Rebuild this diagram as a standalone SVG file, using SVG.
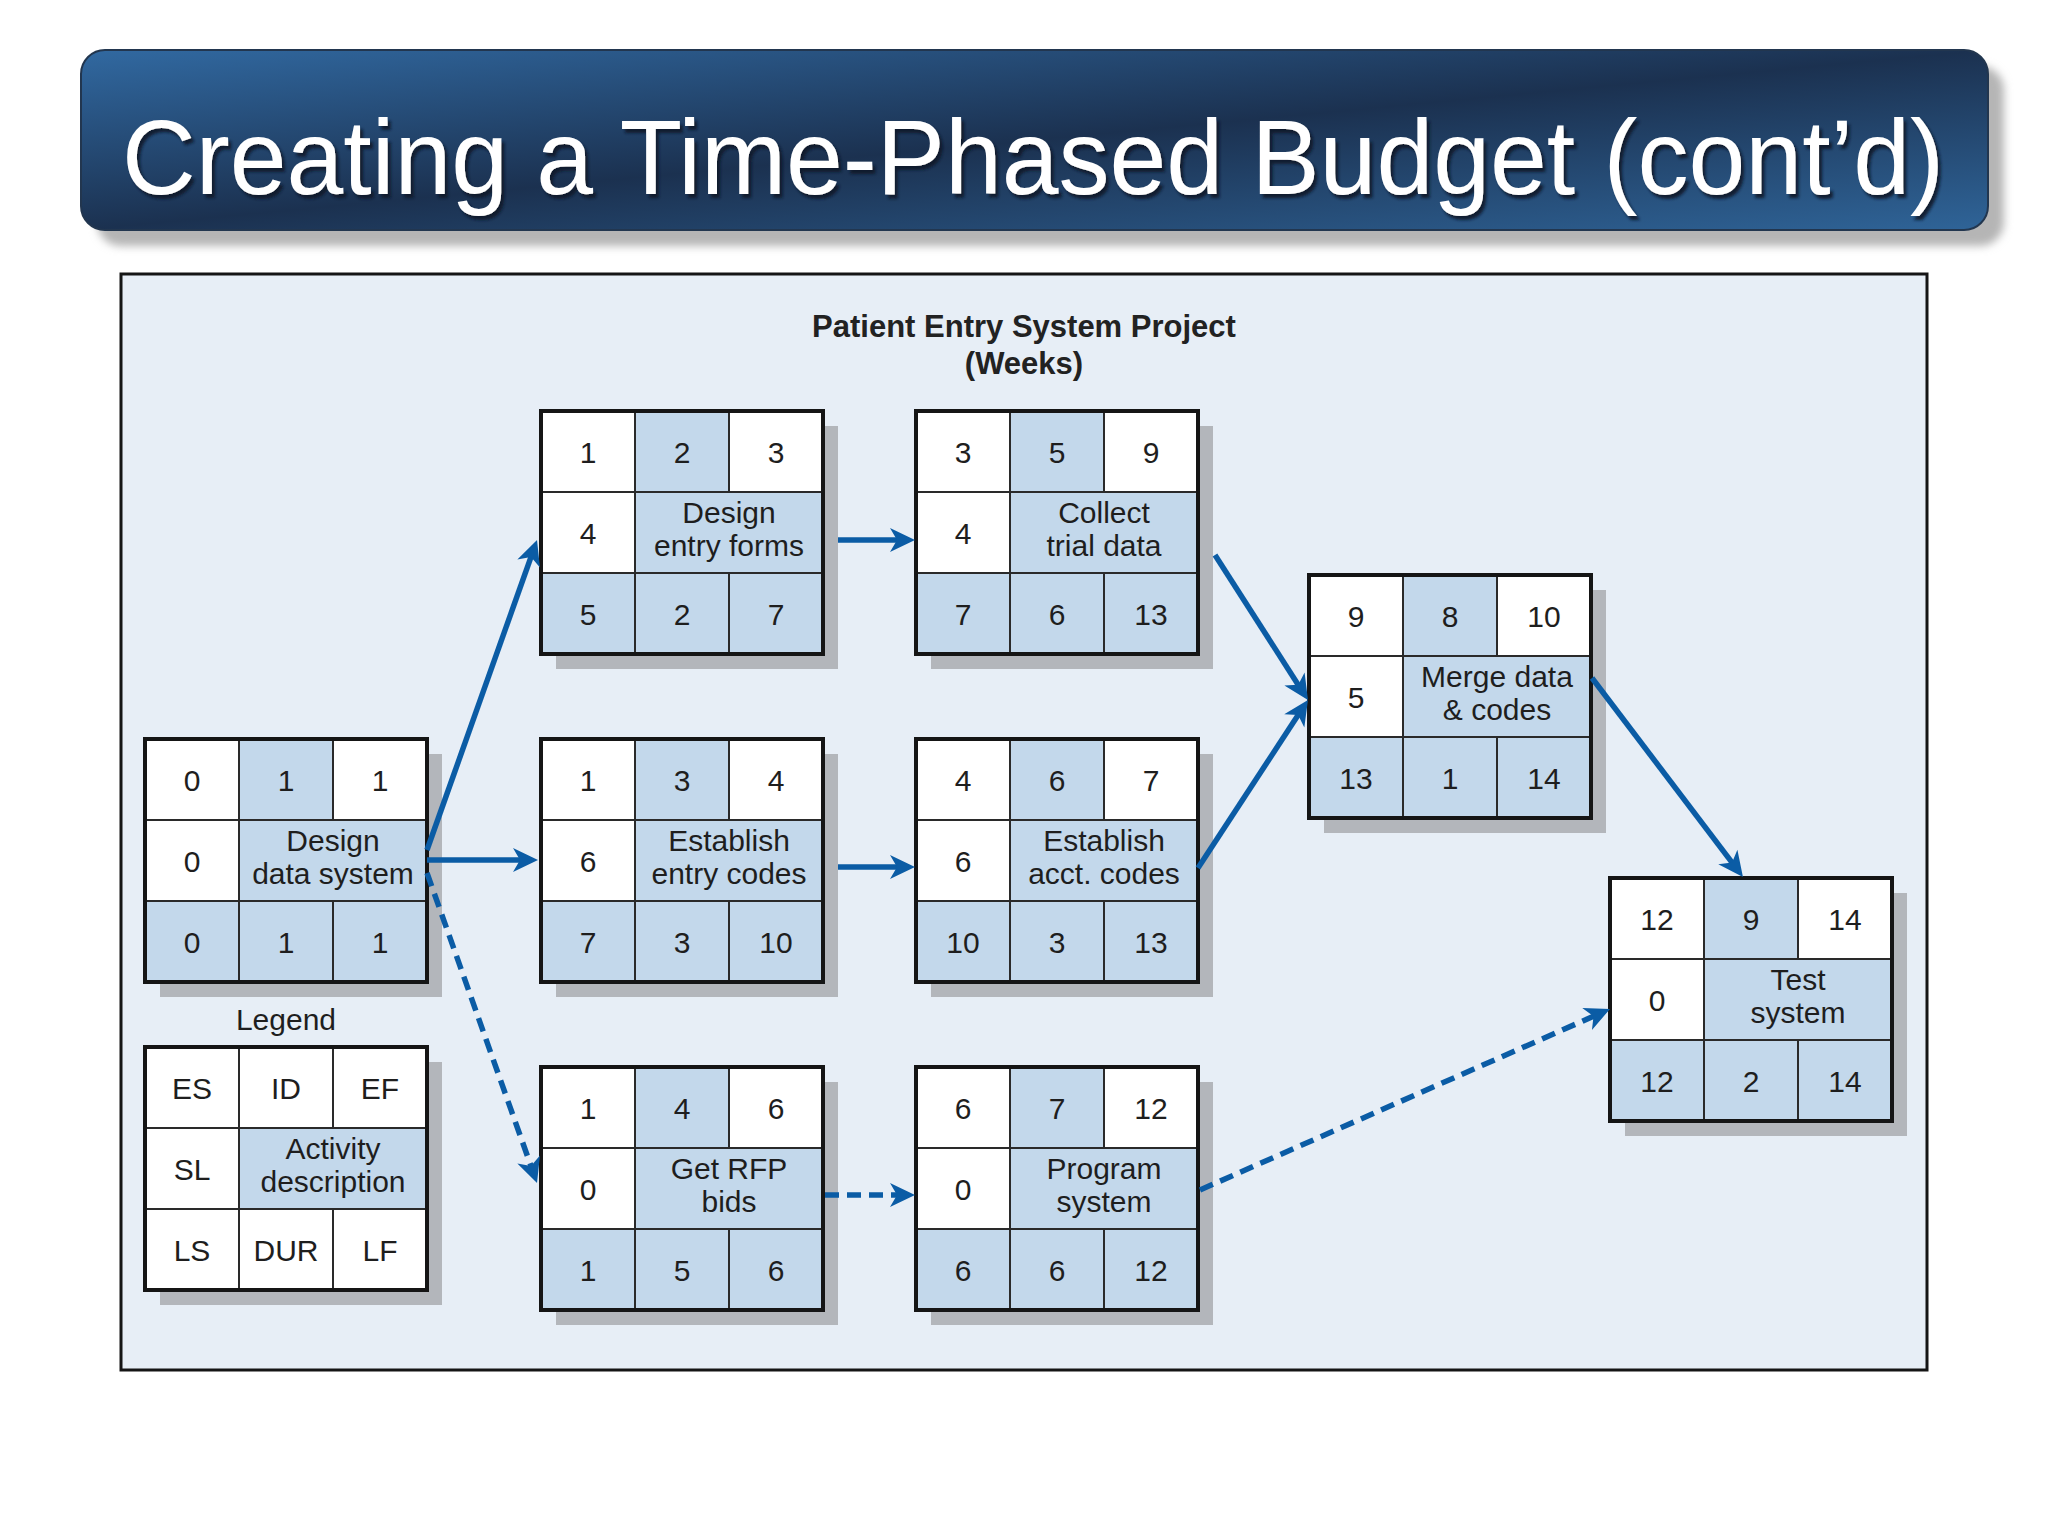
<svg xmlns="http://www.w3.org/2000/svg" width="2048" height="1536" viewBox="0 0 2048 1536">
  <defs>
    <linearGradient id="bannerGrad" x1="0" y1="0" x2="1" y2="1">
      <stop offset="0" stop-color="#3169a1"/>
      <stop offset="0.5" stop-color="#1b3150"/>
      <stop offset="1" stop-color="#2f6498"/>
    </linearGradient>
    <filter id="blur" x="-5%" y="-20%" width="110%" height="140%">
      <feGaussianBlur stdDeviation="4"/>
    </filter>
    <filter id="txtShadow" x="-5%" y="-20%" width="110%" height="140%">
      <feDropShadow dx="3" dy="4" stdDeviation="1.5" flood-color="#0a1626" flood-opacity="0.9"/>
    </filter>
    <marker id="arrow" markerUnits="userSpaceOnUse" markerWidth="40" markerHeight="40" viewBox="-20 -20 40 40" refX="0" refY="0" orient="auto">
      <path d="M12,0 L-13,-12 L-6,0 L-13,12 Z" fill="#0b5ca5"/>
    </marker>
    <style>
      .sh { fill: #b3b6bb; }
      .w { fill: #ffffff; }
      .b { fill: #c3d8eb; }
      .in { stroke: #2a2a2a; stroke-width: 2; fill: none; }
      .out { stroke: #151515; stroke-width: 4; fill: none; }
      .t { font-family: "Liberation Sans", Arial, sans-serif; font-size: 30px; fill: #1e1e1e; text-anchor: middle; }
      .conn { stroke: #0b5ca5; stroke-width: 5.5; fill: none; marker-end: url(#arrow); }
      .dash { stroke-dasharray: 14 8; }
    </style>
  </defs>

  <rect x="0" y="0" width="2048" height="1536" fill="#ffffff"/>

  <!-- Title banner -->
  <g id="title">
    <rect x="97" y="66" width="1907" height="180" rx="24" fill="#b5b5b5" filter="url(#blur)"/>
    <rect x="81" y="50" width="1907" height="180" rx="24" fill="url(#bannerGrad)" stroke="#22364f" stroke-width="2"/>
    <text x="122" y="194" font-family="'Liberation Sans', Arial, sans-serif" font-size="105" fill="#ffffff" textLength="1822" lengthAdjust="spacingAndGlyphs" filter="url(#txtShadow)">Creating a Time-Phased Budget (cont’d)</text>
  </g>

  <!-- Diagram frame -->
  <rect x="121" y="274" width="1806" height="1096" fill="#e7eef6" stroke="#151515" stroke-width="3"/>
  <g id="heading" font-family="'Liberation Sans', Arial, sans-serif" font-size="31" font-weight="bold" fill="#222" text-anchor="middle">
    <text x="1024" y="337">Patient Entry System Project</text>
    <text x="1024" y="374">(Weeks)</text>
  </g>

  <!-- Node: Design data system -->
  <g id="n-design-data-system" transform="translate(145,739)">
    <rect class="sh" x="15" y="15" width="282" height="243"/>
    <rect class="w" x="0" y="0" width="282" height="243"/>
    <rect class="b" x="94" y="0" width="94" height="81"/>
    <rect class="b" x="94" y="81" width="188" height="81"/>
    <rect class="b" x="0" y="162" width="282" height="81"/>
    <path class="in" d="M94,0 V243 M188,0 V81 M188,162 V243 M0,81 H282 M0,162 H282"/>
    <rect class="out" x="0" y="0" width="282" height="243"/>
    <text class="t" x="47" y="52">0</text><text class="t" x="141" y="52">1</text><text class="t" x="235" y="52">1</text>
    <text class="t" x="47" y="133">0</text>
    <text class="t" x="188" y="112">Design</text><text class="t" x="188" y="145">data system</text>
    <text class="t" x="47" y="214">0</text><text class="t" x="141" y="214">1</text><text class="t" x="235" y="214">1</text>
  </g>

  <!-- Node: Design entry forms -->
  <g id="n-design-entry-forms" transform="translate(541,411)">
    <rect class="sh" x="15" y="15" width="282" height="243"/>
    <rect class="w" x="0" y="0" width="282" height="243"/>
    <rect class="b" x="94" y="0" width="94" height="81"/>
    <rect class="b" x="94" y="81" width="188" height="81"/>
    <rect class="b" x="0" y="162" width="282" height="81"/>
    <path class="in" d="M94,0 V243 M188,0 V81 M188,162 V243 M0,81 H282 M0,162 H282"/>
    <rect class="out" x="0" y="0" width="282" height="243"/>
    <text class="t" x="47" y="52">1</text><text class="t" x="141" y="52">2</text><text class="t" x="235" y="52">3</text>
    <text class="t" x="47" y="133">4</text>
    <text class="t" x="188" y="112">Design</text><text class="t" x="188" y="145">entry forms</text>
    <text class="t" x="47" y="214">5</text><text class="t" x="141" y="214">2</text><text class="t" x="235" y="214">7</text>
  </g>

  <!-- Node: Collect trial data -->
  <g id="n-collect-trial-data" transform="translate(916,411)">
    <rect class="sh" x="15" y="15" width="282" height="243"/>
    <rect class="w" x="0" y="0" width="282" height="243"/>
    <rect class="b" x="94" y="0" width="94" height="81"/>
    <rect class="b" x="94" y="81" width="188" height="81"/>
    <rect class="b" x="0" y="162" width="282" height="81"/>
    <path class="in" d="M94,0 V243 M188,0 V81 M188,162 V243 M0,81 H282 M0,162 H282"/>
    <rect class="out" x="0" y="0" width="282" height="243"/>
    <text class="t" x="47" y="52">3</text><text class="t" x="141" y="52">5</text><text class="t" x="235" y="52">9</text>
    <text class="t" x="47" y="133">4</text>
    <text class="t" x="188" y="112">Collect</text><text class="t" x="188" y="145">trial data</text>
    <text class="t" x="47" y="214">7</text><text class="t" x="141" y="214">6</text><text class="t" x="235" y="214">13</text>
  </g>

  <!-- Node: Establish entry codes -->
  <g id="n-establish-entry-codes" transform="translate(541,739)">
    <rect class="sh" x="15" y="15" width="282" height="243"/>
    <rect class="w" x="0" y="0" width="282" height="243"/>
    <rect class="b" x="94" y="0" width="94" height="81"/>
    <rect class="b" x="94" y="81" width="188" height="81"/>
    <rect class="b" x="0" y="162" width="282" height="81"/>
    <path class="in" d="M94,0 V243 M188,0 V81 M188,162 V243 M0,81 H282 M0,162 H282"/>
    <rect class="out" x="0" y="0" width="282" height="243"/>
    <text class="t" x="47" y="52">1</text><text class="t" x="141" y="52">3</text><text class="t" x="235" y="52">4</text>
    <text class="t" x="47" y="133">6</text>
    <text class="t" x="188" y="112">Establish</text><text class="t" x="188" y="145">entry codes</text>
    <text class="t" x="47" y="214">7</text><text class="t" x="141" y="214">3</text><text class="t" x="235" y="214">10</text>
  </g>

  <!-- Node: Establish acct. codes -->
  <g id="n-establish-acct-codes" transform="translate(916,739)">
    <rect class="sh" x="15" y="15" width="282" height="243"/>
    <rect class="w" x="0" y="0" width="282" height="243"/>
    <rect class="b" x="94" y="0" width="94" height="81"/>
    <rect class="b" x="94" y="81" width="188" height="81"/>
    <rect class="b" x="0" y="162" width="282" height="81"/>
    <path class="in" d="M94,0 V243 M188,0 V81 M188,162 V243 M0,81 H282 M0,162 H282"/>
    <rect class="out" x="0" y="0" width="282" height="243"/>
    <text class="t" x="47" y="52">4</text><text class="t" x="141" y="52">6</text><text class="t" x="235" y="52">7</text>
    <text class="t" x="47" y="133">6</text>
    <text class="t" x="188" y="112">Establish</text><text class="t" x="188" y="145">acct. codes</text>
    <text class="t" x="47" y="214">10</text><text class="t" x="141" y="214">3</text><text class="t" x="235" y="214">13</text>
  </g>

  <!-- Node: Get RFP bids -->
  <g id="n-get-rfp-bids" transform="translate(541,1067)">
    <rect class="sh" x="15" y="15" width="282" height="243"/>
    <rect class="w" x="0" y="0" width="282" height="243"/>
    <rect class="b" x="94" y="0" width="94" height="81"/>
    <rect class="b" x="94" y="81" width="188" height="81"/>
    <rect class="b" x="0" y="162" width="282" height="81"/>
    <path class="in" d="M94,0 V243 M188,0 V81 M188,162 V243 M0,81 H282 M0,162 H282"/>
    <rect class="out" x="0" y="0" width="282" height="243"/>
    <text class="t" x="47" y="52">1</text><text class="t" x="141" y="52">4</text><text class="t" x="235" y="52">6</text>
    <text class="t" x="47" y="133">0</text>
    <text class="t" x="188" y="112">Get RFP</text><text class="t" x="188" y="145">bids</text>
    <text class="t" x="47" y="214">1</text><text class="t" x="141" y="214">5</text><text class="t" x="235" y="214">6</text>
  </g>

  <!-- Node: Program system -->
  <g id="n-program-system" transform="translate(916,1067)">
    <rect class="sh" x="15" y="15" width="282" height="243"/>
    <rect class="w" x="0" y="0" width="282" height="243"/>
    <rect class="b" x="94" y="0" width="94" height="81"/>
    <rect class="b" x="94" y="81" width="188" height="81"/>
    <rect class="b" x="0" y="162" width="282" height="81"/>
    <path class="in" d="M94,0 V243 M188,0 V81 M188,162 V243 M0,81 H282 M0,162 H282"/>
    <rect class="out" x="0" y="0" width="282" height="243"/>
    <text class="t" x="47" y="52">6</text><text class="t" x="141" y="52">7</text><text class="t" x="235" y="52">12</text>
    <text class="t" x="47" y="133">0</text>
    <text class="t" x="188" y="112">Program</text><text class="t" x="188" y="145">system</text>
    <text class="t" x="47" y="214">6</text><text class="t" x="141" y="214">6</text><text class="t" x="235" y="214">12</text>
  </g>

  <!-- Node: Merge data & codes -->
  <g id="n-merge-data-codes" transform="translate(1309,575)">
    <rect class="sh" x="15" y="15" width="282" height="243"/>
    <rect class="w" x="0" y="0" width="282" height="243"/>
    <rect class="b" x="94" y="0" width="94" height="81"/>
    <rect class="b" x="94" y="81" width="188" height="81"/>
    <rect class="b" x="0" y="162" width="282" height="81"/>
    <path class="in" d="M94,0 V243 M188,0 V81 M188,162 V243 M0,81 H282 M0,162 H282"/>
    <rect class="out" x="0" y="0" width="282" height="243"/>
    <text class="t" x="47" y="52">9</text><text class="t" x="141" y="52">8</text><text class="t" x="235" y="52">10</text>
    <text class="t" x="47" y="133">5</text>
    <text class="t" x="188" y="112">Merge data</text><text class="t" x="188" y="145">&amp; codes</text>
    <text class="t" x="47" y="214">13</text><text class="t" x="141" y="214">1</text><text class="t" x="235" y="214">14</text>
  </g>

  <!-- Node: Test system -->
  <g id="n-test-system" transform="translate(1610,878)">
    <rect class="sh" x="15" y="15" width="282" height="243"/>
    <rect class="w" x="0" y="0" width="282" height="243"/>
    <rect class="b" x="94" y="0" width="94" height="81"/>
    <rect class="b" x="94" y="81" width="188" height="81"/>
    <rect class="b" x="0" y="162" width="282" height="81"/>
    <path class="in" d="M94,0 V243 M188,0 V81 M188,162 V243 M0,81 H282 M0,162 H282"/>
    <rect class="out" x="0" y="0" width="282" height="243"/>
    <text class="t" x="47" y="52">12</text><text class="t" x="141" y="52">9</text><text class="t" x="235" y="52">14</text>
    <text class="t" x="47" y="133">0</text>
    <text class="t" x="188" y="112">Test</text><text class="t" x="188" y="145">system</text>
    <text class="t" x="47" y="214">12</text><text class="t" x="141" y="214">2</text><text class="t" x="235" y="214">14</text>
  </g>

  <!-- Legend -->
  <g id="legend">
    <text class="t" x="286" y="1030">Legend</text>
    <g transform="translate(145,1047)">
      <rect class="sh" x="15" y="15" width="282" height="243"/>
      <rect class="w" x="0" y="0" width="282" height="243"/>
      <rect class="b" x="94" y="81" width="188" height="81"/>
      <path class="in" d="M94,0 V243 M188,0 V81 M188,162 V243 M0,81 H282 M0,162 H282"/>
      <rect class="out" x="0" y="0" width="282" height="243"/>
      <text class="t" x="47" y="52">ES</text><text class="t" x="141" y="52">ID</text><text class="t" x="235" y="52">EF</text>
      <text class="t" x="47" y="133">SL</text>
      <text class="t" x="188" y="112">Activity</text><text class="t" x="188" y="145">description</text>
      <text class="t" x="47" y="214">LS</text><text class="t" x="141" y="214">DUR</text><text class="t" x="235" y="214">LF</text>
    </g>
  </g>

  <!-- Connectors (drawn over node shadows) -->
  <g id="connectors">
    <path class="conn" d="M427,850 L533,551.3"/>
    <path class="conn" d="M427,860 L526,860"/>
    <path class="conn dash" d="M427,873 L533,1171.7"/>
    <path class="conn" d="M838,540 L903,540"/>
    <path class="conn" d="M838,867 L903,867"/>
    <path class="conn dash" d="M825,1195 L903,1195"/>
    <path class="conn" d="M1215,555 L1301.5,689.9"/>
    <path class="conn" d="M1198,868 L1301.4,710"/>
    <path class="conn" d="M1592,678 L1735.7,867.4"/>
    <path class="conn dash" d="M1200,1190 L1599,1013.8"/>
  </g>
</svg>
